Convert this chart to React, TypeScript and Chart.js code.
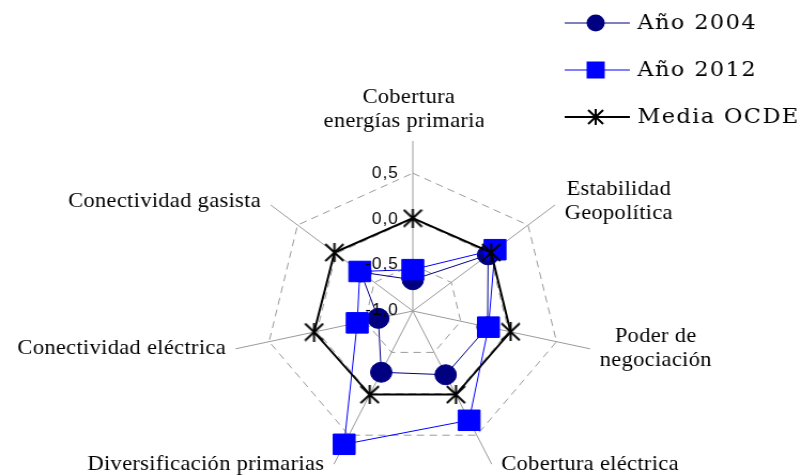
import React, { useEffect, useRef } from 'react';
import { Chart, registerables } from 'chart.js';

Chart.register(...registerables);

// ---- data ----
const categories: string[][] = [
  ['Cobertura', 'energías primarias'],
  ['Estabilidad', 'Geopolítica'],
  ['Poder de', 'negociación'],
  ['Cobertura eléctrica'],
  ['Diversificación primarias'],
  ['Conectividad eléctrica'],
  ['Conectividad gasista'],
];
const series2004 = [-0.66, -0.02, -0.22, -0.23, -0.26, -0.64, -0.32];
const series2012 = [-0.55, 0.07, -0.21, 0.32, 0.61, -0.42, -0.31];
const seriesOCDE = [0.01, 0.02, 0.02, 0.01, 0.01, 0.03, 0.02];
const seriesNames = ['Año 2004', 'Año 2012', 'Media OCDE'];
const tickValues = [-1, -0.5, 0, 0.5];
const scaleMin = -1;
const scaleMax = 0.85;

// ---- layout ----
const LOGICAL_W = 749;
const CANVAS_H = 490;
const DISPLAY_W = 801;

function makeStar(size: number, lw: number): HTMLCanvasElement {
  const c = document.createElement('canvas');
  c.width = size;
  c.height = size;
  const g = c.getContext('2d')!;
  g.strokeStyle = '#000000';
  g.lineWidth = lw;
  const m = 1;
  g.beginPath();
  g.moveTo(m, m);
  g.lineTo(size - m, size - m);
  g.moveTo(size - m, m);
  g.lineTo(m, size - m);
  g.moveTo(size / 2, 0);
  g.lineTo(size / 2, size);
  g.stroke();
  return c;
}

function setSpacing(ctx: any, v: string) {
  if ('letterSpacing' in ctx) ctx.letterSpacing = v;
}

const fmt = (v: number) => v.toFixed(1).replace('.', ',');

export default function App() {
  const ref = useRef<HTMLCanvasElement | null>(null);

  useEffect(() => {
    const canvas = ref.current;
    if (!canvas) return;
    const star = makeStar(19, 2);
    const starLegend = makeStar(16, 2);

    const decor = {
      id: 'decor',
      afterDatasetsDraw(chart: any) {
        const ctx = chart.ctx;
        const scale = chart.scales.r;
        ctx.save();
        setSpacing(ctx, '1px');
        ctx.font = '16px "Liberation Sans", Arial, sans-serif';
        ctx.fillStyle = '#000000';
        ctx.textAlign = 'right';
        ctx.textBaseline = 'middle';
        tickValues.forEach((v) => {
          const p = scale.getPointPositionForValue(0, v);
          ctx.fillText(fmt(v), p.x - 13, p.y);
        });
        ctx.restore();
      },
      afterDraw(chart: any) {
        const ctx = chart.ctx;
        const scale = chart.scales.r;
        const R = scale.drawingArea;
        // point labels
        ctx.save();
        setSpacing(ctx, '0.3px');
        ctx.font = '21px "Liberation Serif", "Times New Roman", serif';
        ctx.fillStyle = '#000000';
        ctx.textAlign = 'center';
        ctx.textBaseline = 'middle';
        const lh = 24;
        categories.forEach((lines, i) => {
          const p = scale.getPointPosition(i, R);
          const c = Math.cos(p.angle);
          const s = Math.sin(p.angle);
          const bw = Math.max(...lines.map((l) => ctx.measureText(l).width));
          const bh = lines.length * lh;
          let cx: number;
          let cy: number;
          ctx.save();
          if (Math.abs(c) < 0.1) {
            // top label: the original box cuts its right edge
            cx = p.x - 3.7;
            cy = p.y - 8 - bh / 2;
            ctx.beginPath();
            ctx.rect(0, 0, p.x + 66, chart.height);
            ctx.clip();
          } else {
            cx = c > 0 ? p.x + 9 + bw / 2 : p.x - 9 - bw / 2;
            cy = p.y + (s < 0 ? -4 : 0);
          }
          lines.forEach((l, j) => {
            ctx.fillText(l, cx, cy - bh / 2 + lh * (j + 0.5));
          });
          ctx.restore();
        });
        ctx.restore();

        // legend
        ctx.save();
        const x0 = 528;
        const x1 = 589;
        const mx = 557;
        const tx = 596;
        const y0 = 23;
        const step = 47;
        chart.data.datasets.forEach((ds: any, i: number) => {
          const y = y0 + i * step;
          ctx.strokeStyle = ds.borderColor;
          ctx.lineWidth = ds.borderWidth;
          ctx.setLineDash([]);
          ctx.beginPath();
          ctx.moveTo(x0, y);
          ctx.lineTo(x1, y);
          ctx.stroke();
          if (ds.pointStyle === 'circle') {
            ctx.fillStyle = ds.pointBackgroundColor;
            ctx.beginPath();
            ctx.arc(mx, y, 8.5, 0, Math.PI * 2);
            ctx.fill();
          } else if (ds.pointStyle === 'rect') {
            ctx.fillStyle = ds.pointBackgroundColor;
            ctx.fillRect(mx - 8.5, y - 8.5, 17, 17);
          } else {
            ctx.drawImage(starLegend, mx - 8, y - 8, 16, 16);
          }
          setSpacing(ctx, '1.3px');
          ctx.font = '21px "DejaVu Serif", serif';
          ctx.fillStyle = '#000000';
          ctx.textAlign = 'left';
          ctx.textBaseline = 'alphabetic';
          ctx.fillText(ds.label, tx, y + 5.5);
          setSpacing(ctx, '0px');
        });
        ctx.restore();
      },
    };

    const chart = new Chart(canvas, {
      type: 'radar',
      data: {
        labels: categories,
        datasets: [
          {
            label: seriesNames[0],
            data: series2004,
            borderColor: '#000080',
            backgroundColor: '#000080',
            borderWidth: 1,
            fill: false,
            pointStyle: 'circle',
            pointRadius: 10,
            pointBorderWidth: 1,
            pointBackgroundColor: '#000080',
            pointBorderColor: '#000080',
            order: 2,
          },
          {
            label: seriesNames[1],
            data: series2012,
            borderColor: '#0000ff',
            backgroundColor: '#0000ff',
            borderWidth: 1,
            fill: false,
            pointStyle: 'rect',
            pointRadius: 14.5,
            pointBorderWidth: 1,
            pointBackgroundColor: '#0000ff',
            pointBorderColor: '#0000ff',
            order: 1,
          },
          {
            label: seriesNames[2],
            data: seriesOCDE,
            borderColor: '#000000',
            backgroundColor: '#000000',
            borderWidth: 2,
            fill: false,
            pointStyle: star as any,
            pointRadius: 9,
            order: 0,
          },
        ],
      },
      options: {
        responsive: false,
        animation: false,
        devicePixelRatio: 1,
        events: [],
        layout: { padding: { left: 216, right: 192, top: 141, bottom: 9 } },
        plugins: { legend: { display: false }, tooltip: { enabled: false } },
        elements: { line: { tension: 0 } },
        scales: {
          r: {
            min: scaleMin,
            max: scaleMax,
            startAngle: 0,
            afterBuildTicks: (s: any) => {
              s.ticks = tickValues.map((v) => ({ value: v }));
            },
            ticks: { display: false },
            pointLabels: { display: false },
            angleLines: { display: true, color: '#9a9a9a', lineWidth: 1 },
            grid: { color: '#9a9a9a', lineWidth: 1 },
            border: { dash: [7, 5] },
          } as any,
        },
      },
      plugins: [decor],
    });
    return () => chart.destroy();
  }, []);

  return (
    <div
      style={{
        position: 'fixed',
        left: 0,
        top: 0,
        width: DISPLAY_W,
        height: 475,
        overflow: 'hidden',
        background: '#ffffff',
      }}
    >
      <canvas
        ref={ref}
        width={LOGICAL_W}
        height={CANVAS_H}
        style={{ width: DISPLAY_W + 'px', height: CANVAS_H + 'px', display: 'block' }}
      />
    </div>
  );
}
